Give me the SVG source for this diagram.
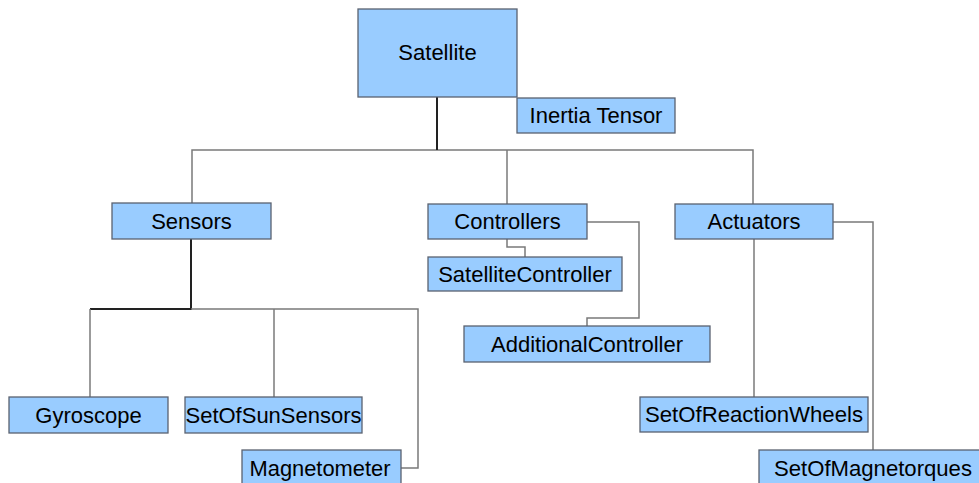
<svg xmlns="http://www.w3.org/2000/svg" width="979" height="483" viewBox="0 0 979 483">
<style>
.box{fill:#99ccff;stroke:#5a6270;stroke-width:1.3}
.t{font-family:"Liberation Sans",Arial,sans-serif;font-size:22px;fill:#000;text-anchor:middle}
.c{fill:none;stroke:#7a7a7a;stroke-width:1.5}
.k{fill:none;stroke:#222;stroke-width:2}
</style>
<rect width="979" height="483" fill="#fff"/>
<g id="connectors">
<path class="c" d="M192 203 V150 H753 V204"/>
<path class="c" d="M507 150 V204"/>
<path class="k" d="M437 97 V150"/>
<path class="k" d="M191 239 V309 H90"/>
<path class="c" d="M90 309 V397"/>
<path class="c" d="M191 309 H418 V468 H401"/>
<path class="c" d="M274 309 V397"/>
<path class="c" d="M507 239 V247 H525 V257"/>
<path class="c" d="M587 222 H639 V318 H587 V326"/>
<path class="c" d="M754 239 V397"/>
<path class="c" d="M833 222 H873 V450"/>
</g>
<g id="satellite"><rect class="box" x="358" y="9" width="159" height="88"/><text class="t" x="437.5" y="60">Satellite</text></g>
<g id="inertia-tensor"><rect class="box" x="517" y="98" width="158" height="35"/><text class="t" x="596" y="123">Inertia Tensor</text></g>
<g id="sensors"><rect class="box" x="112" y="203" width="159" height="36"/><text class="t" x="191.5" y="229">Sensors</text></g>
<g id="controllers"><rect class="box" x="428" y="204" width="159" height="35"/><text class="t" x="507.5" y="229">Controllers</text></g>
<g id="actuators"><rect class="box" x="675" y="204" width="158" height="35"/><text class="t" x="754" y="229">Actuators</text></g>
<g id="satellite-controller"><rect class="box" x="428" y="257" width="194" height="34"/><text class="t" x="525" y="282">SatelliteController</text></g>
<g id="additional-controller"><rect class="box" x="464" y="326" width="246" height="36"/><text class="t" x="587" y="352">AdditionalController</text></g>
<g id="gyroscope"><rect class="box" x="9" y="397" width="159" height="36"/><text class="t" x="88.5" y="423">Gyroscope</text></g>
<g id="set-of-sun-sensors"><rect class="box" x="185" y="397" width="177" height="36"/><text class="t" x="273.5" y="423" textLength="176" lengthAdjust="spacingAndGlyphs">SetOfSunSensors</text></g>
<g id="magnetometer"><rect class="box" x="242" y="450" width="159" height="36"/><text class="t" x="320" y="476" textLength="141" lengthAdjust="spacingAndGlyphs">Magnetometer</text></g>
<g id="set-of-reaction-wheels"><rect class="box" x="640" y="397" width="228" height="35"/><text class="t" x="754" y="422" textLength="218" lengthAdjust="spacingAndGlyphs">SetOfReactionWheels</text></g>
<g id="set-of-magnetorques"><rect class="box" x="759" y="450" width="222" height="36"/><text class="t" x="873" y="476" textLength="198" lengthAdjust="spacingAndGlyphs">SetOfMagnetorques</text></g>
</svg>
